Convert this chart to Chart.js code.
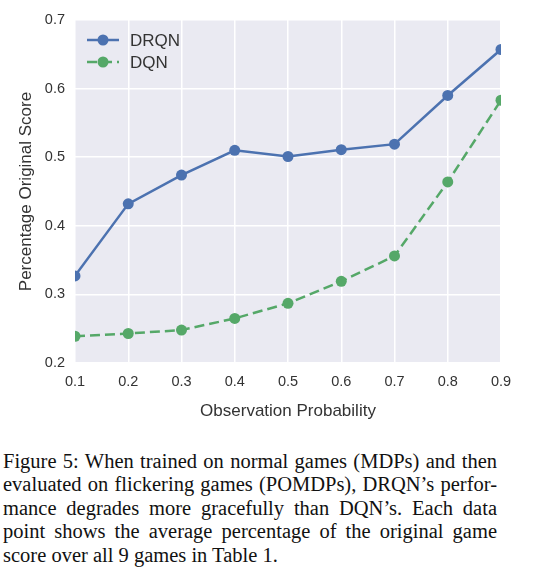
<!DOCTYPE html>
<html>
<head>
<meta charset="utf-8">
<script src="https://cdn.jsdelivr.net/npm/chart.js@4.4.1/dist/chart.umd.min.js"></script>
<style>
  html, body { margin: 0; padding: 0; background: #fff; }
  #wrap { position: relative; width: 545px; height: 572px; overflow: hidden; }
  #chartBox { position: absolute; left: 0; top: 0; width: 545px; height: 430px; }
  #caption {
    position: absolute; left: 3px; top: 450px; width: 494px;
    font-family: "Liberation Serif", "Times New Roman", serif;
    font-size: 20.5px; line-height: 23.4px; color: #111;
  }
  #caption div { text-align: justify; text-align-last: justify; white-space: nowrap; }
  #caption div.last { text-align-last: left; }
</style>
</head>
<body>
<div id="wrap">
  <div id="chartBox"><canvas id="c" width="545" height="430"></canvas></div>
  <div id="caption">
    <div>Figure 5: When trained on normal games (MDPs) and then</div>
    <div>evaluated on flickering games (POMDPs), DRQN’s perfor-</div>
    <div>mance degrades more gracefully than DQN’s. Each data</div>
    <div>point shows the average percentage of the original game</div>
    <div class="last">score over all 9 games in Table 1.</div>
  </div>
</div>
<script>
const categories = ['0.1', '0.2', '0.3', '0.4', '0.5', '0.6', '0.7', '0.8', '0.9'];
const drqnValues = [0.327, 0.432, 0.474, 0.510, 0.501, 0.511, 0.519, 0.590, 0.657];
const dqnValues  = [0.239, 0.243, 0.248, 0.265, 0.287, 0.319, 0.356, 0.464, 0.583];
const yTicks = [0.2, 0.3, 0.4, 0.5, 0.6, 0.7];
const xTitle = 'Observation Probability';
const yTitle = 'Percentage Original Score';

const BLUE = '#4C72B0';
const GREEN = '#55A868';
const TEXT = '#333333';
const FONT = "'Liberation Sans', Arial, sans-serif";

const bgPlugin = {
  id: 'plotBg',
  beforeDraw(chart) {
    const {ctx, chartArea: a} = chart;
    ctx.save();
    ctx.fillStyle = '#EAEAF2';
    ctx.fillRect(a.left, a.top, a.right - a.left, a.bottom - a.top);
    ctx.restore();
  }
};

const legendPlugin = {
  id: 'customLegend',
  afterDatasetsDraw(chart) {
    const {ctx} = chart;
    ctx.save();
    chart.data.datasets.forEach((ds, i) => {
      const y = 40 + i * 22;
      ctx.strokeStyle = ds.borderColor;
      ctx.lineWidth = ds.borderWidth;
      ctx.setLineDash(ds.borderDash || []);
      ctx.beginPath();
      ctx.moveTo(87, y);
      ctx.lineTo(119, y);
      ctx.stroke();
      ctx.setLineDash([]);
      ctx.fillStyle = ds.pointBackgroundColor;
      ctx.beginPath();
      ctx.arc(103, y, ds.pointRadius, 0, Math.PI * 2);
      ctx.fill();
      ctx.fillStyle = TEXT;
      ctx.font = "17px " + FONT;
      ctx.textAlign = 'left';
      ctx.textBaseline = 'middle';
      ctx.fillText(ds.label, 130, y + 1);
    });
    ctx.restore();
  }
};

new Chart(document.getElementById('c'), {
  type: 'line',
  data: {
    labels: categories,
    datasets: [
      {
        label: 'DRQN', data: drqnValues,
        borderColor: BLUE, backgroundColor: BLUE, pointBackgroundColor: BLUE,
        pointBorderWidth: 0, pointRadius: 5.5, borderWidth: 2.5, tension: 0, clip: 0
      },
      {
        label: 'DQN', data: dqnValues,
        borderColor: GREEN, backgroundColor: GREEN, pointBackgroundColor: GREEN,
        pointBorderWidth: 0, pointRadius: 5.5, borderWidth: 2.5, borderDash: [10, 5],
        tension: 0, clip: 0
      }
    ]
  },
  options: {
    responsive: false,
    animation: false,
    devicePixelRatio: 1,
    layout: { padding: { left: 0, top: 20, right: 44, bottom: 0 } },
    plugins: { legend: { display: false }, tooltip: { enabled: false } },
    scales: {
      x: {
        type: 'category',
        offset: false,
        grid: { color: '#FFFFFF', lineWidth: 1.5, drawTicks: false },
        border: { display: false },
        ticks: { color: TEXT, font: { family: FONT, size: 14.5 }, padding: 10, maxRotation: 0 },
        title: { display: true, text: xTitle, color: TEXT, font: { family: FONT, size: 17 }, padding: { top: 0, bottom: 8 } },
        afterFit(scale) { scale.height = 67; }
      },
      y: {
        min: yTicks[0], max: yTicks[yTicks.length - 1],
        afterBuildTicks(scale) { scale.ticks = yTicks.map(v => ({ value: v })); },
        grid: { color: '#FFFFFF', lineWidth: 1.5, drawTicks: false },
        border: { display: false },
        ticks: { color: TEXT, font: { family: FONT, size: 14.5 }, padding: 10, callback: v => Number(v).toFixed(1) },
        title: { display: true, text: yTitle, color: TEXT, font: { family: FONT, size: 17 }, padding: { top: 16, bottom: 0 } },
        afterFit(scale) { scale.width = 75; }
      }
    }
  },
  plugins: [bgPlugin, legendPlugin]
});
</script>
</body>
</html>
